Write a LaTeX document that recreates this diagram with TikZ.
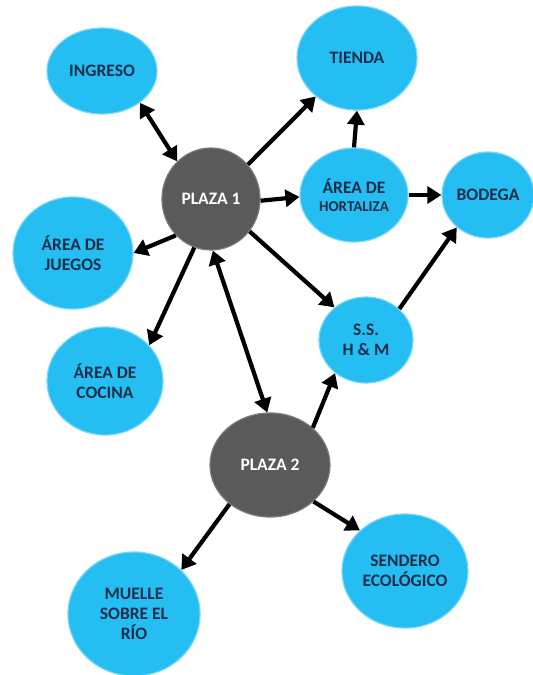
\documentclass[tikz,border=0pt]{standalone}
\usepackage{fontspec}
\newfontfamily\lblfont{Carlito}
\usetikzlibrary{shapes.geometric,arrows.meta}
\definecolor{zona}{HTML}{25BEF2}
\definecolor{zonaborde}{HTML}{79D6F7}
\definecolor{plaza}{HTML}{5A5A5A}
\definecolor{plazaborde}{HTML}{7A7A7A}
\definecolor{tinta}{HTML}{1A2E4C}
\tikzset{
  zone/.style={ellipse, fill=zona, draw=zonaborde, line width=1.2pt, inner sep=0pt, align=center,
    text=tinta, font=\lblfont\bfseries\fontsize{17.5}{20}\selectfont},
  hub/.style={zone, fill=plaza, draw=plazaborde, text=white},
  link/.style={line width=4.2pt, -{Triangle[length=14pt,width=17pt]}},
  twoway/.style={line width=4.2pt, {Triangle[length=14pt,width=17pt]}-{Triangle[length=14pt,width=17pt]}}
}
\begin{document}
\begin{tikzpicture}[x=1pt,y=-1pt]
\useasboundingbox (0,0) rectangle (533,675);
% areas
\node[zone, minimum width=110pt, minimum height=86pt] (ingreso) at (102,71) {INGRESO};
\node[zone, minimum width=120pt, minimum height=104pt] (tienda) at (357,58) {TIENDA};
\node[zone, minimum width=108pt, minimum height=94pt] (hort) at (354,195)
  {ÁREA DE\\[-2pt]{\fontsize{15}{17}\selectfont HORTALIZA}};
\node[zone, minimum width=92pt, minimum height=86pt] (bodega) at (488,195) {BODEGA};
\node[zone, minimum width=120pt, minimum height=112pt] (juegos) at (73,253) {ÁREA DE\\JUEGOS};
\node[zone, minimum width=116pt, minimum height=108pt] (cocina) at (105,381) {ÁREA DE\\COCINA};
\node[zone, minimum width=94pt, minimum height=86pt] (ss) at (366,340) {S.S.\\H \& M};
\node[zone, minimum width=132pt, minimum height=124pt] (muelle) at (134,614) {MUELLE\\SOBRE EL\\RÍO};
\node[zone, minimum width=126pt, minimum height=114pt] (sendero) at (405,571) {SENDERO\\ECOLÓGICO};
% plazas
\node[hub, minimum width=98pt, minimum height=102pt] (p1) at (211,199) {PLAZA 1};
\node[hub, minimum width=120pt, minimum height=104pt] (p2) at (270,465) {PLAZA 2};
% paths between areas
\draw[twoway] (ingreso.-40) -- (p1.132);
\draw[link] (p1.43) -- (tienda.-137);
\draw[link] (p1.-2) -- (hort.182);
\draw[link] (hort.north) -- (tienda.south);
\draw[link] (hort.east) -- (bodega.west);
\draw[link] (p1.-134) -- (juegos.0);
\draw[link] (p1.-109) -- (cocina.39);
\draw[twoway] (p1.-88) -- (p2.93);
\draw[link] (p1.-40) -- (ss.134);
\draw[link] (ss.43) -- (bodega.-134);
\draw[link] (p2.41) -- (ss.-133);
\draw[link] (p2.-136) -- (muelle.43);
\draw[link] (p2.-40) -- (sendero.138);
\end{tikzpicture}
\end{document}
